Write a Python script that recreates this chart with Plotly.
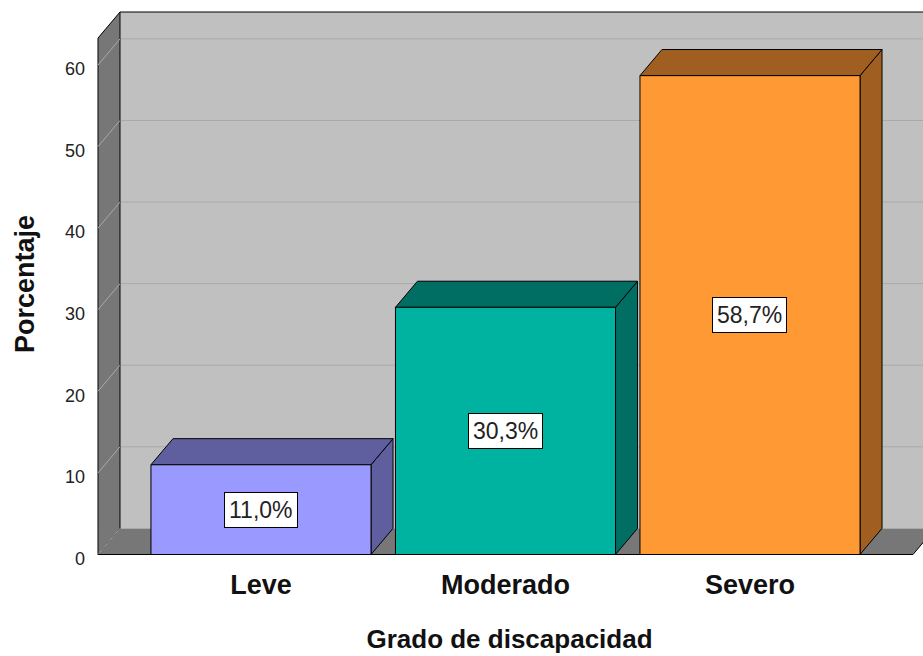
import plotly.graph_objects as go

categories = ["Leve", "Moderado", "Severo"]
values = [11.0, 30.3, 58.7]
front_colors = ["#9999ff", "#00b2a0", "#ff9933"]
dark_colors = ["#5f5fa0", "#006e62", "#a05e21"]
y_ticks = [0, 10, 20, 30, 40, 50, 60]

DX, DY = 0.09, 3.2      # depth offset (x units, y units)
HW = 0.45               # bar half width
X0, X1 = -2 / 3, 2 + 2 / 3
YTOP = 63.3

fig = go.Figure()

def poly(xs, ys, fill, line="black", width=1):
    fig.add_trace(go.Scatter(x=xs + [xs[0]], y=ys + [ys[0]], mode="lines", fill="toself",
                             fillcolor=fill, line=dict(color=line, width=width),
                             hoverinfo="skip", showlegend=False))

def seg(xs, ys, color, width=1):
    fig.add_trace(go.Scatter(x=xs, y=ys, mode="lines", line=dict(color=color, width=width),
                             hoverinfo="skip", showlegend=False))

# back wall
poly([X0 + DX, X1 + DX + 0.2, X1 + DX + 0.2, X0 + DX], [DY, DY, YTOP + DY, YTOP + DY], "#c0c0c0", line="rgba(0,0,0,0)")
# floor
poly([X0, X1, X1 + DX, X0 + DX], [0, 0, DY, DY], "#777777", line="rgba(0,0,0,0)")
# gridlines
for t in y_ticks:
    if t > 0:
        seg([X0 + DX, X1 + DX + 0.2], [t + DY, t + DY], "#a9a9a9")
# left wall
poly([X0, X0, X0 + DX, X0 + DX], [0, YTOP, YTOP + DY, DY], "#777777", line="black")
for t in y_ticks:
    seg([X0, X0 + DX], [t, t + DY], "#a9a9a9")
# outlines
seg([X0 + DX, X1 + DX + 0.2], [YTOP + DY, YTOP + DY], "black")
seg([X0, X1, X1 + DX], [0, 0, DY], "black")

# bars
for i, (c, v) in enumerate(zip(categories, values)):
    l, r = i - HW, i + HW
    poly([r, r + DX, r + DX, r], [0, DY, v + DY, v], dark_colors[i])
    poly([l, r, r + DX, l + DX], [v, v, v + DY, v + DY], dark_colors[i])
    poly([l, r, r, l], [0, 0, v, v], front_colors[i])
    fig.add_annotation(x=i, y=v / 2, text=f"{v:.1f}".replace(".", ",") + "%", showarrow=False,
                       bgcolor="white", bordercolor="black", borderwidth=1, borderpad=4,
                       font=dict(family="Liberation Sans, Arial, sans-serif", size=23, color="#222222"))

fig.update_layout(
    width=923, height=656,
    margin=dict(l=96, r=0, t=8, b=96),
    paper_bgcolor="white", plot_bgcolor="white",
    font=dict(family="Liberation Sans, Arial, sans-serif"),
    xaxis=dict(range=[-0.6748, 2.7076], showgrid=False, zeroline=False, showline=False,
               automargin=False,
               tickmode="array", tickvals=list(range(len(categories))), ticktext=categories,
               ticks="", ticklabelstandoff=6,
               tickfont=dict(size=27, weight="bold", color="#111111"),
               title=dict(text="Grado de discapacidad", standoff=30,
                          font=dict(size=26, weight="bold", color="#111111"))),
    yaxis=dict(range=[-0.674, 66.99], showgrid=False, zeroline=False, showline=False,
               automargin=False,
               tickmode="array", tickvals=y_ticks, ticks="", ticklabelstandoff=10,
               ticklabelshift=4,
               tickfont=dict(size=18, color="#222222"),
               title=dict(text="Porcentaje", standoff=22,
                          font=dict(size=27, weight="bold", color="#111111"))),
)

fig.write_html("out.html", config={"displayModeBar": False},
               post_script="document.body.style.margin='0';document.body.style.overflow='hidden';")
